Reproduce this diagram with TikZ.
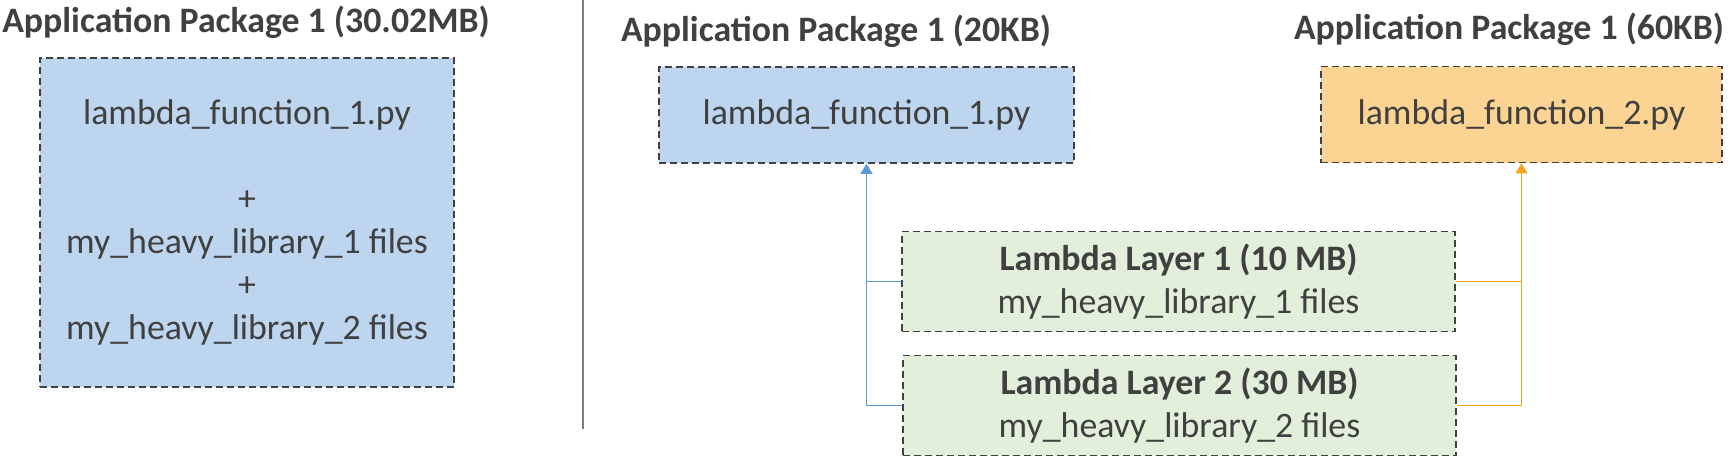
\documentclass[tikz,border=0pt]{standalone}
\usepackage{fontspec}
\setmainfont{Carlito}
\usetikzlibrary{arrows.meta}

\definecolor{pkgblue}{HTML}{BDD5EE}
\definecolor{pkgorange}{HTML}{FBD493}
\definecolor{layergreen}{HTML}{E2EFDA}
\definecolor{edgegray}{HTML}{404040}
\definecolor{textgray}{HTML}{404040}
\definecolor{linkblue}{HTML}{5B9BD5}
\definecolor{linkorange}{HTML}{F2A51E}

\begin{document}
\begin{tikzpicture}[
x=0.5pt, y=-0.5pt,
title/.style={font=\fontsize{17.9}{21.5}\selectfont\bfseries, text=textgray, anchor=base, inner sep=0pt},
pkg/.style={draw=edgegray, line width=0.8pt, dash pattern=on 3.5pt off 2pt, text=textgray, font=\fontsize{17.9}{21.5}\selectfont, align=center, inner sep=0pt},
layer/.style={pkg, fill=layergreen, minimum width=276.5pt, minimum height=50pt},
link/.style={line width=0.6pt},
arrow/.style={link, -{Triangle[length=5pt,width=6pt]}} ]

\useasboundingbox (0,0) rectangle (1730,462);

\node[title](tA) at (246,32) {Application Package 1 (30.02MB)};

\node[title](tB) at (836,41) {Application Package 1 (20KB)};

\node[title](tC) at (1509,39) {Application Package 1 (60KB)};

\node[pkg, fill=pkgblue, minimum width=207pt, minimum height=164.5pt](pkgA) at (247,222.5) {lambda\_function\_1.py\\[21.5pt] +\\ my\_heavy\_library\_1 files\\ +\\ my\_heavy\_library\_2 files};

\node[pkg, fill=pkgblue, minimum width=207.5pt, minimum height=48pt](pkgB) at (866.5,115) {lambda\_function\_1.py};

\node[pkg, fill=pkgorange, minimum width=200.5pt, minimum height=48pt](pkgC) at (1521.5,114.5) {lambda\_function\_2.py};

\node[layer](layA) at (1178.5,281.5) {\textbf{Lambda Layer 1 (10 MB)}\\ my\_heavy\_library\_1 files};

\node[layer](layB) at (1179.5,405.5) {\textbf{Lambda Layer 2 (30 MB)}\\ my\_heavy\_library\_2 files};

\draw[gray, line width=0.7pt] (583,0) -- (583,429);

\draw[arrow, linkblue] (layB.west) -| (pkgB.south);

\draw[link, linkblue] (layA.west) -- (layA.west -| pkgB.south);

\draw[arrow, linkorange] (layB.east) -| (pkgC.south);

\draw[link, linkorange] (layA.east) -- (layA.east -| pkgC.south);

\end{tikzpicture}
\end{document}
